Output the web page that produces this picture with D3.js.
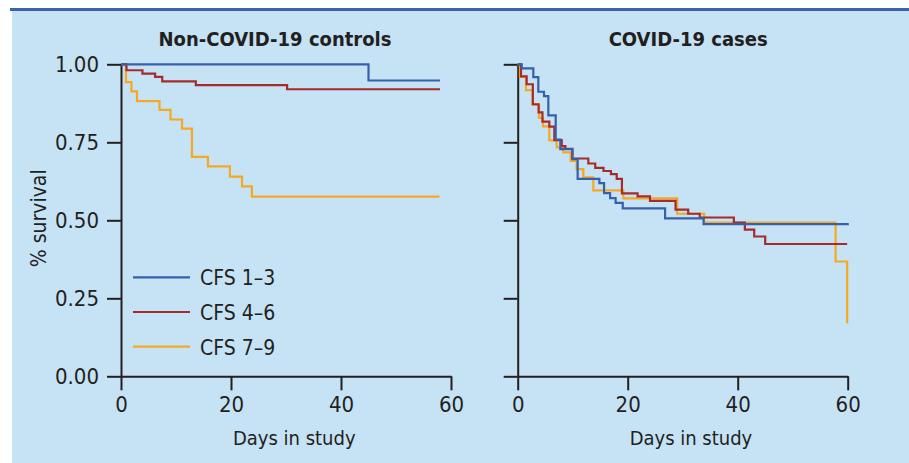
<!DOCTYPE html>
<html>
<head>
<meta charset="utf-8">
<script src="https://cdn.jsdelivr.net/npm/d3@7"></script>
<style>
  body { margin: 0; background: #ffffff; }
  svg text { font-family: "Liberation Sans Narrow", "Arial Narrow", "DejaVu Sans Condensed", "Roboto Condensed", sans-serif; fill: #231f20; }
  .axis path, .axis line { stroke: #231f20; stroke-width: 2; }
  .axis text { font-size: 22px; }
</style>
</head>
<body>
<div id="graph"></div>
<script>
const panelTitles = ["Non-COVID-19 controls", "COVID-19 cases"];
const groups = ["CFS 1–3", "CFS 4–6", "CFS 7–9"];
const xTicks = [0, 20, 40, 60];
const yTicks = [0, 0.25, 0.5, 0.75, 1];

// Kaplan-Meier steps: event day, survival after it
const controlsLowDays = [0, 45.0, 58];
const controlsLowSurv = [1, 0.948, 0.948];
const controlsMidDays = [0, 1.0, 3.9, 6.2, 7.5, 13.6, 30.2, 58];
const controlsMidSurv = [1, 0.981, 0.970, 0.960, 0.945, 0.933, 0.920, 0.920];
const controlsHighDays = [0, 0.9, 1.9, 2.9, 7.0, 9.0, 11.1, 12.9, 15.8, 19.8, 22.0, 23.8, 57.9];
const controlsHighSurv = [1, 0.943, 0.913, 0.882, 0.854, 0.823, 0.794, 0.703, 0.673, 0.640, 0.609, 0.576, 0.576];

const casesLowDays = [0, 0.73, 2.84, 3.75, 4.78, 5.57, 6.91, 7.75, 9.94, 10.9, 14.85, 15.7, 16.8, 17.8, 19.1, 26.8, 33.8, 60.2];
const casesLowSurv = [1, 0.987, 0.959, 0.912, 0.898, 0.836, 0.759, 0.728, 0.696, 0.633, 0.619, 0.587, 0.571, 0.556, 0.538, 0.506, 0.488, 0.488];
const casesMidDays = [0, 0.6, 1.63, 2.75, 3.8, 4.5, 5.75, 6.66, 8.0, 8.66, 9.94, 12.84, 14.1, 15.6, 16.95, 18.0, 18.95, 21.8, 24.05, 28.7, 31.0, 33.1, 39.3, 41.3, 43.0, 45.0, 59.9];
const casesMidSurv = [1, 0.961, 0.936, 0.872, 0.846, 0.816, 0.800, 0.757, 0.738, 0.729, 0.698, 0.682, 0.668, 0.658, 0.648, 0.633, 0.586, 0.577, 0.562, 0.534, 0.521, 0.509, 0.493, 0.470, 0.448, 0.424, 0.424];
const casesHighDays = [0, 0.4, 1.5, 2.72, 3.87, 4.6, 5.75, 7.08, 8.3, 9.63, 10.72, 11.93, 13.75, 19.2, 29.0, 33.9, 57.8, 59.9];
const casesHighSurv = [1, 0.960, 0.917, 0.871, 0.828, 0.801, 0.756, 0.734, 0.718, 0.690, 0.664, 0.638, 0.596, 0.570, 0.521, 0.493, 0.368, 0.170];

const colors = ["#3560ad", "#a62b2b", "#f7a823"];

function SurvivalChart() {
  const width = 909;
  const height = 463;

  const svg = d3
    .select("#graph")
    .append("svg")
    .attr("width", width)
    .attr("height", height);

  // blue rule and pale panel
  svg.append("rect").attr("x", 12).attr("y", 11).attr("width", width - 12).attr("height", height - 11).attr("fill", "#c6e2f5");
  svg.append("rect").attr("x", 10).attr("y", 8).attr("width", width - 10).attr("height", 3).attr("fill", "#3b62ae");

  const y = d3.scaleLinear().domain([0, 1]).range([376.3, 64.3]);

  const panels = [
    {
      title: panelTitles[0],
      range: [121, 451],
      titleAt: 28,
      labels: true,
      series: [
        [controlsLowDays, controlsLowSurv],
        [controlsMidDays, controlsMidSurv],
        [controlsHighDays, controlsHighSurv],
      ],
    },
    {
      title: panelTitles[1],
      range: [517.7, 847.7],
      titleAt: 31,
      labels: false,
      series: [
        [casesLowDays, casesLowSurv],
        [casesMidDays, casesMidSurv],
        [casesHighDays, casesHighSurv],
      ],
    },
  ];

  panels.forEach((p) => {
    const x = d3.scaleLinear().domain([0, 60]).range(p.range);
    const g = svg.append("g");

    const xAxis = d3.axisBottom(x).tickValues(xTicks).tickSize(14).tickSizeOuter(0).tickPadding(6);
    const yAxis = d3
      .axisLeft(y)
      .tickValues(yTicks)
      .tickSize(14)
      .tickSizeOuter(0)
      .tickPadding(8)
      .tickFormat(p.labels ? d3.format(".2f") : "");

    g.append("g").attr("class", "axis").attr("transform", `translate(0,${y(0)})`).call(xAxis);
    g.append("g").attr("class", "axis").attr("transform", `translate(${x(0)},0)`).call(yAxis);

    const line = d3
      .line()
      .x((d) => x(d[0]))
      .y((d) => y(d[1]))
      .curve(d3.curveStepAfter);

    // orange first, blue on top
    [2, 1, 0].forEach((i) => {
      const [days, surv] = p.series[i];
      g.append("path")
        .datum(days.map((d, k) => [d, surv[k]]))
        .attr("fill", "none")
        .attr("stroke", colors[i])
        .attr("stroke-width", 2.2)
        .attr("d", line);
    });

    g.append("text")
      .attr("x", x(p.titleAt))
      .attr("y", 46)
      .attr("text-anchor", "middle")
      .style("font-size", "20px")
      .style("font-weight", "bold")
      .text(p.title);

    g.append("text")
      .attr("x", x(31.5))
      .attr("y", 445)
      .attr("text-anchor", "middle")
      .style("font-size", "20px")
      .text("Days in study");
  });

  svg
    .append("text")
    .attr("transform", `translate(46,${y(0.5) - 2}) rotate(-90)`)
    .attr("text-anchor", "middle")
    .style("font-size", "21px")
    .text("% survival");

  const legend = svg
    .append("g")
    .selectAll(".legend-entry")
    .data(groups)
    .enter()
    .append("g")
    .attr("class", "legend-entry")
    .attr("transform", (d, i) => `translate(133,${277.3 + i * 34.7})`);

  legend
    .append("line")
    .attr("x1", 0)
    .attr("x2", 57)
    .attr("stroke", (d, i) => colors[i])
    .attr("stroke-width", 2.2);

  legend
    .append("text")
    .attr("x", 67)
    .attr("y", 8)
    .style("font-size", "21px")
    .text((d) => d);
}

SurvivalChart();
</script>
</body>
</html>
